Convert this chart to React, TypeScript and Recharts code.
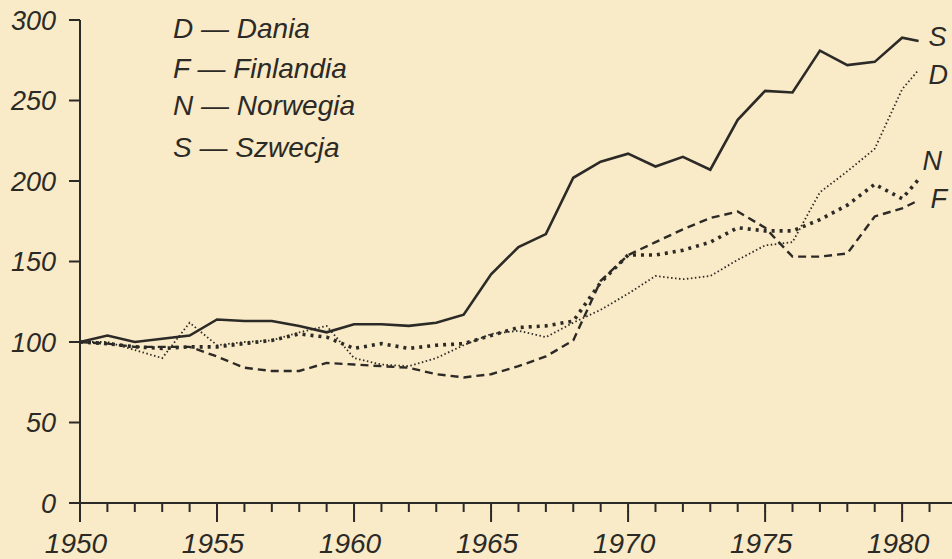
import React from "react";
import { LineChart, Line, XAxis, YAxis, LabelList } from "recharts";

// Years of observation (last entry = end of the drawn curves, early 1981)
const years = [
  1950, 1951, 1952, 1953, 1954, 1955, 1956, 1957, 1958, 1959,
  1960, 1961, 1962, 1963, 1964, 1965, 1966, 1967, 1968, 1969,
  1970, 1971, 1972, 1973, 1974, 1975, 1976, 1977, 1978, 1979,
  1980, 1980.6,
];

// D — Dania
const dania = [
  100, 100, 95, 90, 112, 98, 100, 101, 106, 110,
  90, 86, 85, 90, 98, 105, 107, 103, 112, 120,
  130, 141, 139, 141, 151, 160, 162, 193, 206, 220,
  257, 269,
];
// F — Finlandia
const finlandia = [
  100, 99, 97, 97, 97, 91, 84, 82, 82, 87,
  86, 85, 84, 80, 78, 80, 85, 91, 101, 138,
  154, 162, 170, 177, 181, 171, 153, 153, 155, 178,
  183, 188,
];
// N — Norwegia
const norwegia = [
  100, 99, 97, 96, 97, 97, 99, 101, 105, 103,
  96, 99, 96, 98, 99, 104, 109, 110, 113, 137,
  154, 154, 157, 162, 171, 169, 169, 176, 185, 198,
  189, 201,
];
// S — Szwecja
const szwecja = [
  100, 104, 100, 102, 104, 114, 113, 113, 110, 106,
  111, 111, 110, 112, 117, 142, 159, 167, 202, 212,
  217, 209, 215, 207, 238, 256, 255, 281, 272, 274,
  289, 287,
];

const seriesKeys = ["D", "F", "N", "S"];
const seriesNames = ["Dania", "Finlandia", "Norwegia", "Szwecja"];
const yTicks = [0, 50, 100, 150, 200, 250, 300];
const xTicks = Array.from({ length: 32 }, (_, i) => 1950 + i);

const data = years.map((year, i) => ({
  year,
  D: dania[i],
  F: finlandia[i],
  N: norwegia[i],
  S: szwecja[i],
}));

const INK = "#2c2a26";
const BG = "#f9eac8";
const FONT = "'Liberation Sans', Arial, sans-serif";
const MINOR = 9;

// y passed here = axis line + MINOR (built-in tick line length)
const XTick = (props: any) => {
  const { x, y, payload } = props;
  const v = payload.value;
  const major = v % 5 === 0;
  if (!major) return <g />;
  return (
    <g>
      <line x1={x} x2={x} y1={y - 1} y2={y + 10} stroke={INK} strokeWidth={2} />
      <text
        x={x - 4}
        y={y + 41}
        textAnchor="middle"
        fontSize={28}
        fontStyle="italic"
        fontFamily={FONT}
        fill={INK}
      >
        {v}
      </text>
    </g>
  );
};

const endOffsets: Record<string, [number, number]> = {
  S: [10, 5],
  D: [10, 14],
  N: [4, -9],
  F: [12, 8],
};

const makeEndLabel = (key: string) => (props: any) => {
  const { x, y, index } = props;
  if (index !== years.length - 1) return null;
  const [dx, dy] = endOffsets[key];
  return (
    <text
      x={x + dx}
      y={y + dy}
      fontSize={27}
      fontStyle="italic"
      fontFamily={FONT}
      fill={INK}
    >
      {key}
    </text>
  );
};

const legendBaselines = [38, 78, 115, 157];

export default function App() {
  return (
    <div
      style={{
        position: "absolute",
        left: 0,
        top: 0,
        width: 952,
        height: 559,
        background: BG,
        overflow: "hidden",
      }}
    >
      <LineChart
        width={952}
        height={559}
        data={data}
        margin={{ top: 20, right: 0, bottom: 0, left: 0 }}
      >
        <XAxis
          dataKey="year"
          type="number"
          domain={[1950, 1981.82]}
          ticks={xTicks}
          interval={0}
          height={56}
          stroke={INK}
          strokeWidth={2}
          tickSize={MINOR}
          tickMargin={0}
          tickLine={{ stroke: INK, strokeWidth: 2 }}
          tick={<XTick />}
        />
        <YAxis
          domain={[0, 300]}
          ticks={yTicks}
          interval={0}
          width={80}
          stroke={INK}
          strokeWidth={2}
          tickSize={11}
          tickMargin={13}
          tickLine={{ stroke: INK, strokeWidth: 2 }}
          tick={{ fontSize: 27, fontStyle: "italic", fontFamily: FONT, fill: INK }}
        />
        <Line
          type="linear"
          dataKey="D"
          name="Dania"
          stroke={INK}
          strokeWidth={1.8}
          strokeDasharray="1.5 2.5"
          dot={false}
          isAnimationActive={false}
        >
          <LabelList dataKey="D" content={makeEndLabel("D")} />
        </Line>
        <Line
          type="linear"
          dataKey="F"
          name="Finlandia"
          stroke={INK}
          strokeWidth={2.4}
          strokeDasharray="8 5"
          dot={false}
          isAnimationActive={false}
        >
          <LabelList dataKey="F" content={makeEndLabel("F")} />
        </Line>
        <Line
          type="linear"
          dataKey="N"
          name="Norwegia"
          stroke={INK}
          strokeWidth={3.6}
          strokeDasharray="3 5"
          dot={false}
          isAnimationActive={false}
        >
          <LabelList dataKey="N" content={makeEndLabel("N")} />
        </Line>
        <Line
          type="linear"
          dataKey="S"
          name="Szwecja"
          stroke={INK}
          strokeWidth={2.6}
          dot={false}
          isAnimationActive={false}
        >
          <LabelList dataKey="S" content={makeEndLabel("S")} />
        </Line>
      </LineChart>
      <svg
        width={280}
        height={170}
        style={{ position: "absolute", left: 173, top: 0, display: "block" }}
      >
        {seriesKeys.map((k, i) => (
          <text
            key={k}
            x={0}
            y={legendBaselines[i]}
            fontSize={28}
            fontStyle="italic"
            fontFamily={FONT}
            fill={INK}
          >
            {`${k} — ${seriesNames[i]}`}
          </text>
        ))}
      </svg>
    </div>
  );
}
